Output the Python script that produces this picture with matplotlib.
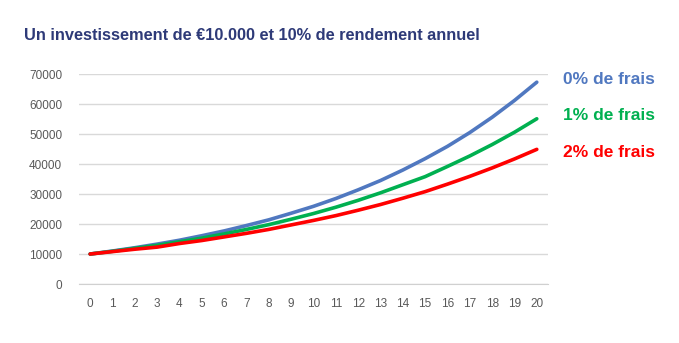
import matplotlib.pyplot as plt
import numpy as np

# DONNEES
annees = list(range(0, 21))
frais_0 = [10000, 11000, 12100, 13300, 14600, 16100, 17700, 19500, 21400, 23600,
           25900, 28500, 31400, 34500, 38000, 41800, 45900, 50500, 55600, 61200, 67300]
frais_1 = [10000, 10900, 11900, 12900, 14100, 15300, 16700, 18200, 19800, 21600,
           23500, 25600, 27900, 30400, 33100, 35800, 39200, 42700, 46500, 50600, 55100]
frais_2 = [10000, 10800, 11600, 12300, 13500, 14500, 15700, 16900, 18200, 19700,
           21200, 22800, 24600, 26500, 28600, 30800, 33300, 35900, 38700, 41700, 44900]
etiquettes = ['0% de frais', '1% de frais', '2% de frais']
couleurs = ['#5078C0', '#00B050', '#FF0000']

plt.rcParams['font.family'] = ['Liberation Sans', 'DejaVu Sans']

fig = plt.figure(figsize=(6.79, 3.43), dpi=100)
ax = fig.add_axes([0.1163, 0.172, 0.6907, 0.612])

series = [frais_0, frais_1, frais_2]
for valeurs, couleur in zip(series, couleurs):
    ax.plot(annees, valeurs, color=couleur, linewidth=2.6, solid_capstyle='round')

ax.set_xlim(-0.5, 20.5)
ax.set_ylim(0, 70000)
ax.set_xticks(annees)
ax.set_yticks(np.arange(0, 70001, 10000))
ax.grid(axis='y', color='#D9D9D9', linewidth=1)
ax.set_axisbelow(True)
for s in ['top', 'right', 'left']:
    ax.spines[s].set_visible(False)
ax.spines['bottom'].set_color('#D0D0D0')
ax.tick_params(length=0, labelsize=8.5, labelcolor='#595959')
ax.tick_params(axis='y', pad=12)
ax.tick_params(axis='x', pad=10)

# etiquettes a droite
for texte, couleur, ypix in zip(etiquettes, couleurs, [80, 116, 152]):
    fig.text(563 / 679, 1 - ypix / 343, texte, color=couleur, fontsize=12.5,
             fontweight='bold', va='center', ha='left')

fig.text(252 / 679, 1 - 35 / 343, 'Un investissement de €10.000 et 10% de rendement annuel',
         color='#2E3A78', fontsize=11.8, fontweight='bold', ha='center', va='center')

fig.savefig('out.png', dpi=100)
